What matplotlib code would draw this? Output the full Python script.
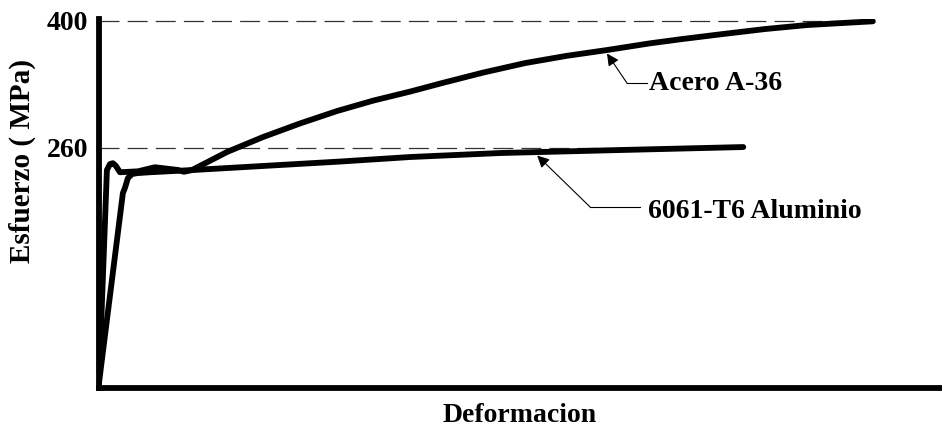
import matplotlib.pyplot as plt

# stress-strain curves (strain in arbitrary units 0-100)
acero_x = [0, 0.95, 1.31, 1.66, 2.02, 2.5, 4.64, 6.66, 9.39, 10.1, 11.06, 15.22, 19.5,
           23.9, 28.3, 32.6, 37.0, 40.8, 45.7, 50.7, 55.6, 60.4, 65.5, 69.3, 74.2,
           79.2, 84.2, 89.1, 92.0]
acero_y = [0, 235.4, 242, 243, 240, 233, 234, 238.5, 235.5, 233.5, 235.4, 255.3, 271.8,
           286.8, 300.5, 312.0, 322.0, 331.4, 343.0, 353.5, 361.4, 367.8, 375.2, 379.9,
           385.5, 391.0, 395.4, 398.0, 399.5]

alum_x = [0, 2.85, 3.09, 3.45, 3.92, 4.52, 6.06, 11.06, 28.66, 37.0, 47.7, 61.9, 76.6]
alum_y = [0, 210, 215.6, 226.6, 231, 232, 233, 235.4, 244.8, 249.8, 254.2, 257.5, 260.8]

ytick_vals = [400, 260]
ref_end_x = [92.0, 60.4]   # where the dashed reference lines stop

plt.rcParams['font.family'] = ['Liberation Serif', 'DejaVu Serif']
plt.rcParams['font.weight'] = 'bold'

fig = plt.figure(figsize=(9.42, 4.30), dpi=100)
ax = fig.add_axes([0.105, 0.0977, 0.893, 0.858])

for yv, xe in zip(ytick_vals, ref_end_x):
    ax.plot([0, xe], [yv, yv], color='#333333', lw=0.9, ls=(0, (16, 6.5)), zorder=1)

ax.plot(acero_x, acero_y, color='black', lw=4.2, solid_capstyle='round',
        solid_joinstyle='round', zorder=3)
ax.plot(alum_x, alum_y, color='black', lw=4.2, solid_capstyle='round',
        solid_joinstyle='round', zorder=3)

ax.set_xlim(0, 100)
ax.set_ylim(-5, 402)
ax.set_xticks([])
ax.set_yticks(ytick_vals)
ax.set_yticklabels([str(v) for v in ytick_vals], fontsize=20, fontweight='bold')
ax.tick_params(axis='y', length=0, pad=7.5)

for s in ['top', 'right']:
    ax.spines[s].set_visible(False)
for s in ['left', 'bottom']:
    ax.spines[s].set_linewidth(4.2)

ax.set_xlabel('Deformacion', fontsize=20, fontweight='bold', labelpad=11)
ax.set_ylabel('Esfuerzo ( MPa)', fontsize=21, fontweight='bold')
ax.yaxis.set_label_coords(-0.075, 0.615)

arrow = dict(arrowstyle='-|>', color='black', lw=0.8, mutation_scale=18, shrinkA=0, shrinkB=0)

# Acero A-36 leader
ax.annotate('', xy=(60.4, 364.0), xytext=(62.8, 331.0), arrowprops=arrow)
ax.plot([62.8, 65.2], [331.0, 331.0], color='black', lw=0.8)
ax.text(65.4, 331.0, 'Acero A-36', fontsize=20, fontweight='bold', va='center', ha='left')

# 6061-T6 Aluminio leader
ax.annotate('', xy=(52.1, 251.5), xytext=(58.4, 194.6), arrowprops=arrow)
ax.plot([58.4, 64.3], [194.6, 194.6], color='black', lw=0.8)
ax.text(65.3, 190.2, '6061-T6 Aluminio', fontsize=20, fontweight='bold', va='center', ha='left')

fig.savefig('out.png', dpi=100)
